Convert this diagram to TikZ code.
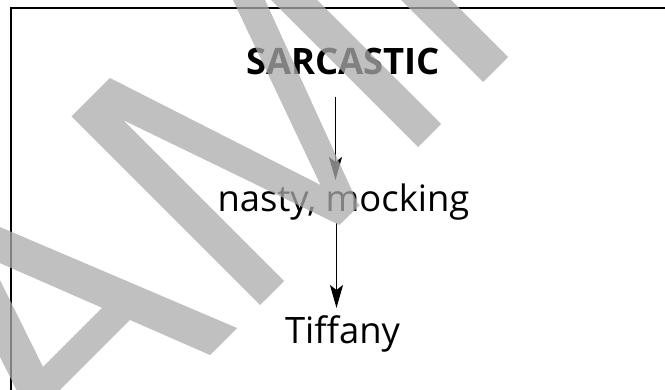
\documentclass[tikz,border=0pt]{standalone}
\usepackage{fontspec}
\setmainfont{Open Sans}
\usetikzlibrary{arrows.meta}
\definecolor{wmgray}{gray}{0.67}
\begin{document}
\begin{tikzpicture}[x=1pt,y=-1pt,
  lbl/.style={anchor=base,inner sep=0pt,font=\fontsize{36.4}{40}\selectfont},
  lblbold/.style={lbl,font=\fontsize{36.4}{40}\selectfont\bfseries},
  arr/.style={line width=1.5pt,-{Stealth[length=23pt,width=13pt,inset=5pt]}},
  frameline/.style={line width=1.8pt},
  wm/.style={fill=wmgray,fill opacity=0.75}]
\useasboundingbox (0,0) rectangle (665,390);
\clip (0,0) rectangle (665,390);
% frame
\coordinate (fr1) at (675,8);
\coordinate (fr2) at (11,8);
\coordinate (fr3) at (11,400);
\draw[frameline] (fr1) -- (fr2) -- (fr3);
% texts
\node[lblbold] (s) at (343,75) {SARCASTIC};
\node[lbl] (n) at (343.5,212) {nasty, mocking};
\node[lbl] (t) at (342.5,344) {Tiffany};
% connectors
\draw[arr] ([xshift=-7.5pt,yshift=-22pt]s.base) -- ([xshift=-8pt,yshift=32pt]n.base);
\draw[arr] ([xshift=-7pt,yshift=-11pt]n.base) -- ([xshift=-6pt,yshift=36pt]t.base);
% watermark
\fill[wm] (95.5,92.5) -- (284,281) -- (260,305) -- (71.5,116.5) -- cycle
 (110,78) -- (360,205) -- (339.4,225) -- (123,120) -- (95.5,92.5) -- cycle
 (223.5,-20) -- (255.9,-20) -- (359,206) -- (339.4,225) -- cycle
 (251,-20) -- (297,-20) -- (441,124) -- (418,147) -- cycle
 (381,-20) -- (431,-20) -- (508,57) -- (483,82) -- cycle
 (-20,218.5) -- (237,328) -- (210,355) -- (-20,254.4) -- cycle
 (-77.6,200) -- (-39.6,200) -- (69.3,420) -- (31.3,420) -- cycle
 (120,290) -- (145,305) -- (50,400) -- (25,385) -- cycle;
\end{tikzpicture}
\end{document}
